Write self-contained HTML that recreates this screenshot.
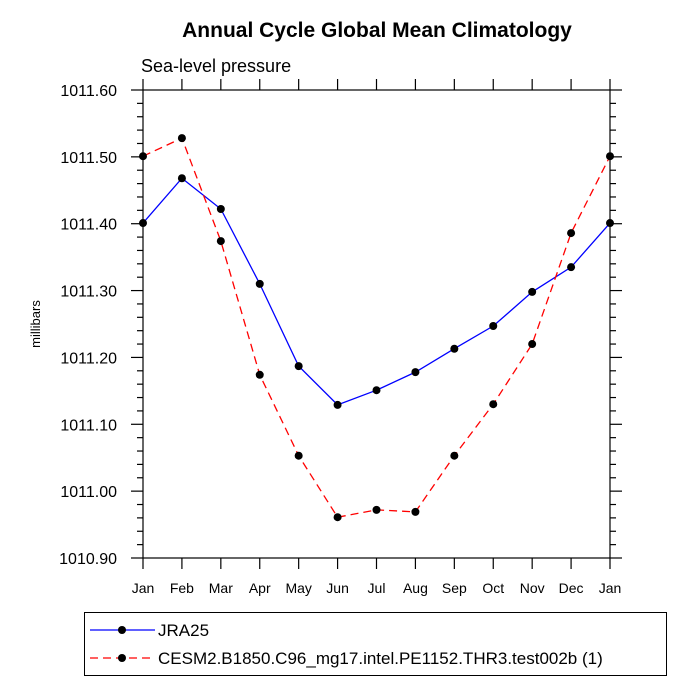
<!DOCTYPE html>
<html><head><meta charset="utf-8"><style>
body{margin:0;background:#fff}
svg{display:block;font-family:"Liberation Sans",Arial,sans-serif}
</style></head><body>
<svg id="chart" width="694" height="694" viewBox="0 0 694 694">
<text x="377" y="37" text-anchor="middle" font-size="21" font-weight="bold">Annual Cycle Global Mean Climatology</text>
<text x="141" y="72" font-size="18">Sea-level pressure</text>
<text transform="translate(40,324) rotate(-90)" text-anchor="middle" font-size="13">millibars</text>
<g id="axes"></g>
<g id="series"></g>
<g>
<rect x="84.5" y="612.5" width="582" height="63" fill="none" stroke="#000"/>
<line x1="90" y1="630" x2="155" y2="630" stroke="#0000ff" stroke-width="1.3"/>
<circle cx="122" cy="630" r="4" fill="#000"/>
<text x="158" y="636" font-size="17">JRA25</text>
<line x1="90" y1="658" x2="155" y2="658" stroke="#ff0000" stroke-width="1.3" stroke-dasharray="8,5"/>
<circle cx="122" cy="658" r="4" fill="#000"/>
<text x="158" y="664" font-size="17">CESM2.B1850.C96_mg17.intel.PE1152.THR3.test002b (1)</text>
</g>
</svg>
<script>
const months=["Jan","Feb","Mar","Apr","May","Jun","Jul","Aug","Sep","Oct","Nov","Dec","Jan"];
const jra25=[1011.401,1011.468,1011.422,1011.310,1011.187,1011.129,1011.151,1011.178,1011.213,1011.247,1011.298,1011.335,1011.401];
const cesm2=[1011.501,1011.528,1011.374,1011.174,1011.053,1010.961,1010.972,1010.969,1011.053,1011.130,1011.220,1011.386,1011.501];
const yTicks=[1010.90,1011.00,1011.10,1011.20,1011.30,1011.40,1011.50,1011.60];
const L=143,R=610,T=90,B=558,yMin=1010.9,yMax=1011.6;
const xs=i=>L+(R-L)*i/(months.length-1);
const ys=v=>B-(v-yMin)/(yMax-yMin)*(B-T);
const NS="http://www.w3.org/2000/svg";
function mk(tag,attrs,parent){const e=document.createElementNS(NS,tag);for(const k in attrs)e.setAttribute(k,attrs[k]);parent.appendChild(e);return e;}
const ax=document.getElementById('axes');
const frame=mk('rect',{x:L,y:T,width:R-L,height:B-T,fill:'none',stroke:'#000','stroke-width':1.2},ax);


months.forEach((m,i)=>{
 const x=xs(i);
 const t1=mk('line',{x1:x,y1:B,x2:x,y2:B+11,stroke:'#000','stroke-width':1.2},ax);
 
 
 const t2=mk('line',{x1:x,y1:T,x2:x,y2:T-11,stroke:'#000','stroke-width':1.2},ax);
 
 
 const lb=mk('text',{x:x,y:B+35,'text-anchor':'middle','font-size':14},ax);
 lb.textContent=m;
 
 
});
for(let v=yMin;v<=yMax+1e-9;v+=0.02){
 const y=ys(v);
 const major=Math.abs(Math.round(v*10)-v*10)<1e-6;
 const len=major?12:6;
 const a=mk('line',{x1:L,y1:y,x2:L-len,y2:y,stroke:'#000','stroke-width':1.2},ax);
 
 
 const b=mk('line',{x1:R,y1:y,x2:R+len,y2:y,stroke:'#000','stroke-width':1.2},ax);
 
 
}
yTicks.forEach(v=>{
 const lb=mk('text',{x:117,y:ys(v)+6,'text-anchor':'end','font-size':16},ax);
 lb.textContent=v.toFixed(2);
 
 
});
const sg=document.getElementById('series');
function drawSeries(data,color,dash,name){
 const pl=mk('polyline',{points:data.map((v,i)=>xs(i)+','+ys(v)).join(' '),fill:'none',stroke:color,'stroke-width':1.3,'stroke-dasharray':dash},sg);
 
 
 data.forEach((v,i)=>{
  const c=mk('circle',{cx:xs(i),cy:ys(v),r:4,fill:'#000'},sg);
  
  
 });
}
drawSeries(jra25,'#0000ff','none','jra25');
drawSeries(cesm2,'#ff0000','8,5','cesm2');
</script>
</body></html>
